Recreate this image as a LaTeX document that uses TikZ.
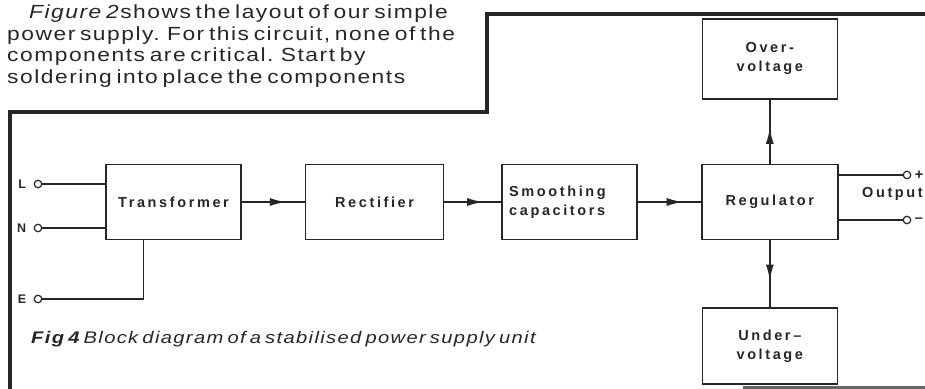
\documentclass[tikz,border=0pt]{standalone}
\usepackage{fontspec}
\setmainfont{Liberation Sans}
\newfontfamily\bodyfont[FakeStretch=1.2,LetterSpace=8,WordSpace=0.6]{Liberation Sans}
\newfontfamily\boxfont[LetterSpace=18]{Liberation Sans}
\usetikzlibrary{arrows.meta,calc,positioning,decorations.markings}

\begin{document}
\begin{tikzpicture}[x=1pt,y=-1pt,
    every node/.style={text=black!85},
    block/.style={rectangle, draw=black!85, line width=1.6pt, minimum width=135pt, minimum height=75pt, font=\boxfont\bfseries\fontsize{14.5}{19}\selectfont, align=center},
    term/.style={circle, draw=black!85, line width=1.2pt, fill=white, inner sep=0pt, minimum size=7.5pt},
    termlbl/.style={font=\boxfont\bfseries\fontsize{12.5}{14}\selectfont},
    wire/.style={draw=black!85, line width=1.6pt},
    flow/.style={wire, postaction={decorate}, decoration={markings, mark=at position #1 with {\arrow{Latex[length=16pt,width=8pt]}}}},
    flow/.default=0.7]
    \useasboundingbox (0,0) rectangle (925,388);

    % text above the frame
    \node(intro) [anchor=north west, align=left, inner sep=0pt, font=\bodyfont\fontsize{19}{21.5}\selectfont] at (7,5)
      {\hspace*{22pt}\textit{Figure 2}shows the layout of our simple\\
       power supply. For this circuit, none of the\\
       components are critical. Start by\\
       soldering into place the components};
    \draw[black!85, line width=3.5pt] (10,390) -- (10,112) -- (487,112) -- (487,14) -- (927,14);
    \draw[black!60, line width=3pt] (743,387) -- (927,387);

    % blocks
    \node(trans) [block] at (173.5,202) {Transformer};
    \node(rect) [block, minimum width=138pt, right = 63pt of trans] {Rectifier};
    \node(smooth) [block, text width=121pt, align=left, right = 57pt of rect] {Smoothing\\capacitors};
    \node(reg) [block, minimum width=136pt, right = 63pt of smooth] {Regulator};
    \node(over) [block, minimum height=80pt, above = 64pt of reg] {Over-\\voltage};
    \node(under) [block, minimum height=76pt, below = 67pt of reg] {Under–\\voltage};

    % mains terminals
    \node(L) [term, label={[termlbl, label distance=4pt]left:L}] at (38,184) {};
    \node(N) [term, label={[termlbl, label distance=4pt]left:N}] at (38,228) {};
    \node(E) [term, label={[termlbl, label distance=4pt]left:E}] at (38,299) {};
    \coordinate(etap) at ($(trans.south west)!0.28!(trans.south east)$);
    \draw[wire] (L) -- (L -| trans.west);
    \draw[wire] (N) -- (N -| trans.west);
    \draw[wire] (E) -| (etap);

    % signal path
    \draw[flow=0.7] (trans) -- (rect);
    \draw[flow=0.68] (rect) -- (smooth);
    \draw[flow=0.71] (smooth) -- (reg);
    \draw[flow=0.56] (reg.north) -- (reg.north |- over.south);
    \draw[flow=0.6] (reg.south) -- (reg.south |- under.north);

    % output terminals
    \node(plus) [term, label={[termlbl, font=\boxfont\bfseries\fontsize{14.5}{16}\selectfont, label distance=0pt]right:+}] at (907,175) {};
    \node(minus) [term, label={[termlbl, font=\boxfont\bfseries\fontsize{14.5}{16}\selectfont, label distance=0pt]right:–}] at (907,220) {};
    \draw[wire] (plus -| reg.east) -- (plus);
    \draw[wire] (minus -| reg.east) -- (minus);
    \node(out) [anchor=west, inner sep=0pt, font=\boxfont\bfseries\fontsize{14.5}{16}\selectfont] at (862,194) {Output};

    % caption
    \node(cap) [anchor=base west, inner sep=0pt, font=\bodyfont\itshape\fontsize{16.8}{20}\selectfont] at (31,343) {{\bfseries Fig 4} Block diagram of a stabilised power supply unit};
\end{tikzpicture}
\end{document}
